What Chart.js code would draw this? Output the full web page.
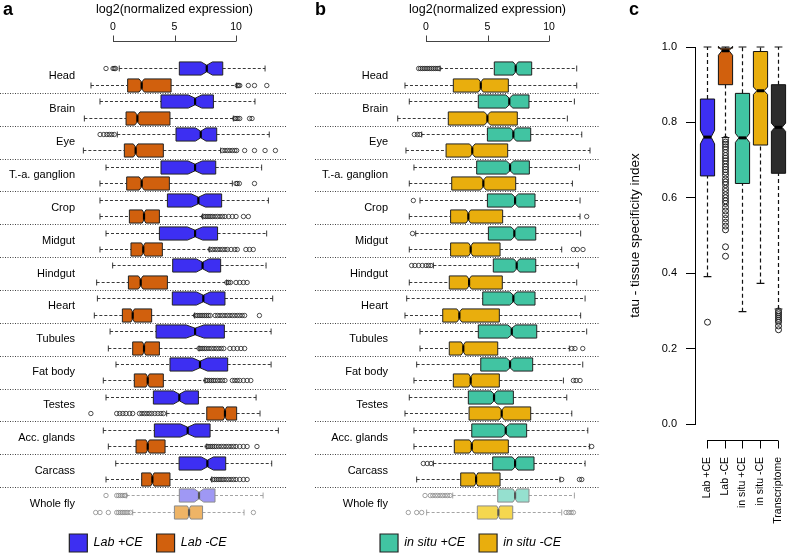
<!DOCTYPE html>
<html>
<head>
<meta charset="utf-8">
<title>Expression by tissue and tissue specificity</title>
<script src="https://cdn.jsdelivr.net/npm/chart.js@4.4.1/dist/chart.umd.min.js"></script>
<style>
  html, body { margin: 0; padding: 0; background: #fff; }
  body { position: relative; width: 787px; height: 556px; overflow: hidden; font-family: "Liberation Sans", Arial, sans-serif; }
  canvas { position: absolute; top: 0; }
  .panel { position: absolute; top: 0; font-size: 18px; font-weight: bold; line-height: 1; }
</style>
</head>
<body>
<canvas id="panelA" width="296" height="562" style="left:0"></canvas>
<canvas id="panelB" width="315" height="562" style="left:313px"></canvas>
<canvas id="panelC" width="167" height="556" style="left:620px"></canvas>
<div class="panel" style="left:3px">a</div>
<div class="panel" style="left:315px">b</div>
<div class="panel" style="left:629px">c</div>
<script>
// ---------- Data ----------
const tissues = ['Head', 'Brain', 'Eye', 'T.-a. ganglion', 'Crop', 'Midgut', 'Hindgut',
  'Heart', 'Tubules', 'Fat body', 'Testes', 'Acc. glands', 'Carcass', 'Whole fly'];
const exprTicks = [0, 5, 10];
const exprTitle = 'log2(normalized expression)';

// [lower whisker, q1, median, q3, upper whisker] per tissue
const labPlus = [
  [0.51, 5.39, 7.62, 8.92, 12.36], [-1.06, 3.90, 6.67, 8.16, 11.54], [0.35, 5.12, 7.13, 8.43, 12.70],
  [-0.57, 3.90, 6.67, 8.35, 12.08], [-1.06, 4.42, 6.94, 8.83, 12.63], [-0.57, 3.77, 6.67, 8.50, 12.49],
  [-0.03, 4.85, 7.28, 8.75, 12.44], [-1.27, 4.82, 7.34, 9.10, 12.98], [-0.24, 3.50, 6.67, 9.05, 12.85],
  [0.24, 4.63, 7.07, 9.32, 12.85], [-0.57, 3.28, 5.39, 6.94, 11.63], [-0.79, 3.36, 6.07, 7.89, 13.44],
  [0.22, 5.37, 7.67, 9.16, 12.90], [1.11, 5.39, 6.99, 8.29, 12.20]
];
const labMinus = [
  [-1.79, 1.19, 2.33, 4.72, 10.05], [-2.33, 1.06, 1.98, 4.63, 9.78], [-2.41, 0.92, 1.84, 4.09, 8.75],
  [-1.06, 1.11, 2.33, 4.58, 9.70], [-1.06, 1.33, 2.52, 3.77, 7.28], [-1.06, 1.46, 2.46, 4.01, 7.83],
  [-1.33, 1.25, 2.25, 4.42, 9.24], [-1.52, 0.76, 1.60, 3.14, 6.62], [-0.38, 1.60, 2.52, 3.77, 6.99],
  [-0.79, 1.73, 2.82, 4.09, 7.48], [4.36, 7.62, 9.10, 10.05, 11.95], [-0.38, 1.87, 2.82, 4.23, 7.62],
  [-0.57, 2.33, 3.20, 4.63, 8.02], [1.60, 4.99, 6.18, 7.28, 10.65]
];
const situPlus = [
  [1.14, 5.55, 7.29, 8.59, 12.25], [-1.36, 4.25, 6.77, 8.37, 12.06], [-0.35, 4.99, 7.10, 8.51, 12.66],
  [-0.98, 4.12, 6.83, 8.40, 12.47], [-0.49, 4.99, 7.24, 8.86, 12.52], [-0.84, 5.07, 7.18, 8.92, 12.57],
  [0.60, 5.47, 7.37, 8.92, 12.38], [-1.57, 4.61, 7.10, 8.86, 12.93], [-0.49, 4.25, 6.97, 9.00, 13.06],
  [-0.76, 4.45, 6.83, 8.67, 12.74], [-1.36, 3.44, 5.53, 7.10, 11.44], [-0.98, 3.72, 6.48, 8.18, 13.15],
  [0.60, 5.42, 7.24, 8.78, 12.93], [2.17, 5.83, 7.24, 8.37, 12.06]
];
const situMinus = [
  [-1.71, 2.22, 4.45, 6.69, 12.25], [-2.30, 1.81, 4.99, 7.42, 11.49], [-1.63, 1.63, 3.76, 6.64, 13.33],
  [-1.36, 2.09, 4.66, 7.29, 11.90], [-1.36, 2.00, 3.44, 6.23, 12.52], [-1.36, 2.00, 3.63, 6.02, 11.03],
  [-1.36, 1.89, 3.50, 6.20, 12.25], [-1.71, 1.36, 2.71, 5.96, 12.57], [-0.49, 1.89, 3.03, 5.83, 11.65],
  [-0.98, 2.22, 3.63, 5.96, 11.17], [-1.71, 3.50, 6.15, 8.51, 11.85], [-0.98, 2.30, 3.72, 6.69, 13.28],
  [-0.76, 2.82, 4.07, 6.02, 10.89], [0.05, 4.17, 5.88, 7.05, 11.03]
];

// outliers per tissue
const labPlusOut = [
  [-0.57, 0.0, 0.1, 0.2], [], [-1.05, -0.75, -0.5, -0.3, -0.1, 0.1], [], [], [], [], [], [], [], [], [], [],
  [-0.57, 0.3, 0.45, 0.6, 0.75, 0.9, 1.0]
];
const labMinusOut = [
  [10.1, 10.2, 10.3, 11.0, 11.5, 12.5],
  [9.9, 10.0, 10.15, 10.3, 11.1, 11.3],
  [8.9, 9.1, 9.3, 9.5, 9.7, 9.9, 10.05, 10.7, 11.5, 12.36, 13.2],
  [10.0, 10.1, 10.27, 11.5],
  [7.35, 7.5, 7.65, 7.8, 7.95, 8.1, 8.3, 8.5, 8.7, 8.9, 9.1, 9.4, 9.7, 10.0, 10.6, 11.0],
  [7.9, 8.1, 8.3, 8.5, 8.7, 8.9, 9.1, 9.3, 9.6, 9.9, 10.1, 10.8, 11.1, 11.4],
  [9.25, 9.4, 9.55, 10.0, 10.3, 10.6, 10.9],
  [6.7, 6.85, 7.0, 7.15, 7.3, 7.45, 7.6, 7.75, 7.9, 8.3, 8.5, 8.7, 8.9, 9.1, 9.3, 9.5, 9.7, 9.9, 10.1, 10.3, 10.5, 10.7, 11.9],
  [7.0, 7.15, 7.3, 7.45, 7.6, 7.8, 8.0, 8.2, 8.4, 8.6, 8.8, 9.0, 9.5, 9.8, 10.1, 10.4, 10.7],
  [7.55, 7.7, 7.85, 8.0, 8.15, 8.3, 8.5, 8.7, 8.9, 9.1, 9.7, 9.9, 10.1, 10.3, 10.6, 10.9, 11.2],
  [-1.8, 0.3, 0.55, 0.8, 1.05, 1.35, 1.6, 2.15, 2.35, 2.55, 2.75, 2.95, 3.15, 3.4, 3.65, 3.9, 4.1],
  [7.65, 7.8, 7.95, 8.1, 8.25, 8.4, 8.6, 8.8, 9.0, 9.2, 9.4, 9.6, 9.8, 10.0, 10.3, 10.6, 10.9, 11.7],
  [8.1, 8.25, 8.4, 8.55, 8.7, 8.85, 9.0, 9.2, 9.4, 9.6, 9.8, 10.0, 10.3, 10.6, 10.9],
  [-1.41, -1.06, -0.38, 0.3, 0.45, 0.6, 0.75, 0.9, 1.05, 1.2, 1.4, 11.41]
];
const situPlusOut = [
  [-0.6, -0.45, -0.3, -0.15, 0.0, 0.15, 0.3, 0.45, 0.6, 0.75, 0.9, 1.05],
  [], [-0.95, -0.7, -0.5], [], [-1.03], [-1.1], [-1.17, -0.9, -0.6, -0.3, 0.0, 0.2, 0.4],
  [], [], [], [], [], [-0.22, 0.1, 0.4],
  [-0.08, 0.35, 0.55, 0.75, 0.95, 1.15, 1.35, 1.55, 1.75, 1.95]
];
const situMinusOut = [
  [], [], [], [], [13.06], [11.98, 12.3, 12.76], [], [], [11.85, 12.11, 12.74],
  [11.98, 12.2, 12.52], [], [13.47], [11.03, 12.47, 12.66],
  [-1.44, -0.76, -0.35, 11.38, 11.6, 11.8, 11.98]
];

// panel c: tau
const tauCats = ['Lab +CE', 'Lab -CE', 'in situ +CE', 'in situ -CE', 'Transcriptome'];
const tauTicks = [0, 0.2, 0.4, 0.6, 0.8, 1.0];
const tauStats = [
  [0.391, 0.658, 0.761, 0.862, 1.0],
  [0.760, 0.900, 0.990, 0.997, 1.0],
  [0.298, 0.638, 0.759, 0.877, 1.0],
  [0.373, 0.740, 0.884, 0.988, 1.0],
  [0.305, 0.665, 0.787, 0.900, 1.0]
];
const tauNotch = [0.018, 0.012, 0.012, 0.010, 0.011];
const tauOut = [
  [0.27],
  [0.755, 0.748, 0.742, 0.735, 0.728, 0.72, 0.712, 0.705, 0.698, 0.69, 0.682, 0.675, 0.668, 0.66, 0.65,
   0.642, 0.635, 0.625, 0.617, 0.608, 0.6, 0.592, 0.585, 0.575, 0.565, 0.555, 0.545, 0.535, 0.525, 0.515, 0.47, 0.445],
  [],
  [],
  [0.30, 0.295, 0.29, 0.285, 0.28, 0.275, 0.27, 0.26, 0.25]
];

// ---------- Styles ----------
const FONT = '"Liberation Sans", Arial, sans-serif';
Chart.defaults.font.family = FONT;
Chart.defaults.color = '#000';

const colors = {
  labPlus: '#3d2ff2', labMinus: '#d1600d', situPlus: '#41c4a2', situMinus: '#e9ae0d', transcriptome: '#2c2c2c'
};
const faded = {
  labPlus: '#9f98f4', labMinus: '#eeb466', situPlus: '#95e0cf', situMinus: '#f5d74f'
};

// ---------- Horizontal notched boxes (panels a, b) ----------
function drawHBox(ctx, xs, yc, h, cap, s, notch, fill, light, outs) {
  const [lo, q1, md, q3, hi] = s;
  const P = v => xs.getPixelForValue(v);
  const nw = notch * (q3 - q1);
  const ink = light ? '#9a9a9a' : '#222';

  ctx.strokeStyle = ink;
  ctx.lineWidth = 0.9;
  ctx.setLineDash([3, 2]);
  ctx.beginPath();
  ctx.moveTo(P(lo), yc); ctx.lineTo(P(q1), yc);
  ctx.moveTo(P(q3), yc); ctx.lineTo(P(hi), yc);
  ctx.stroke();
  ctx.setLineDash([]);
  ctx.beginPath();
  ctx.moveTo(P(lo), yc - cap); ctx.lineTo(P(lo), yc + cap);
  ctx.moveTo(P(hi), yc - cap); ctx.lineTo(P(hi), yc + cap);
  ctx.stroke();

  ctx.beginPath();
  ctx.moveTo(P(q1), yc - h);
  ctx.lineTo(P(md - nw), yc - h);
  ctx.lineTo(P(md), yc - h / 2);
  ctx.lineTo(P(md + nw), yc - h);
  ctx.lineTo(P(q3), yc - h);
  ctx.lineTo(P(q3), yc + h);
  ctx.lineTo(P(md + nw), yc + h);
  ctx.lineTo(P(md), yc + h / 2);
  ctx.lineTo(P(md - nw), yc + h);
  ctx.lineTo(P(q1), yc + h);
  ctx.closePath();
  ctx.fillStyle = fill;
  ctx.fill();
  ctx.strokeStyle = light ? '#8a8a8a' : '#222';
  ctx.lineWidth = 1;
  ctx.stroke();

  ctx.strokeStyle = light ? '#555' : '#000';
  ctx.lineWidth = 2.2;
  ctx.beginPath();
  ctx.moveTo(P(md), yc - h / 2); ctx.lineTo(P(md), yc + h / 2);
  ctx.stroke();

  ctx.strokeStyle = light ? '#8a8a8a' : '#222';
  ctx.lineWidth = 0.8;
  for (const v of outs) {
    ctx.beginPath();
    ctx.arc(P(v), yc, 2.2, 0, Math.PI * 2);
    ctx.stroke();
  }
}

const rowBoxes = {
  id: 'rowBoxes',
  afterDatasetsDraw(chart, args, opts) {
    const ctx = chart.ctx;
    const xs = chart.scales.x, ys = chart.scales.y;
    const area = chart.chartArea;
    const band = ys.getPixelForValue(1) - ys.getPixelForValue(0);
    const h = band * 0.2, cap = band * 0.09;
    ctx.save();

    // dotted row separators
    ctx.strokeStyle = '#444';
    ctx.lineWidth = 1;
    ctx.setLineDash([1, 1.5]);
    for (let i = 1; i < tissues.length; i++) {
      const y = Math.round(ys.getPixelForValue(i - 0.5)) + 0.5;
      ctx.beginPath();
      ctx.moveTo(opts.sepLeft, y);
      ctx.lineTo(area.right + 1, y);
      ctx.stroke();
    }
    ctx.setLineDash([]);

    // axis line spanning the ticks only, R style
    const ay = 41.5;
    ctx.strokeStyle = '#444';
    ctx.beginPath();
    ctx.moveTo(xs.getPixelForValue(exprTicks[0]), ay);
    ctx.lineTo(xs.getPixelForValue(exprTicks[exprTicks.length - 1]), ay);
    for (const v of exprTicks) {
      const px = Math.round(xs.getPixelForValue(v)) + 0.5;
      ctx.moveTo(px, ay);
      ctx.lineTo(px, ay - 6);
    }
    ctx.stroke();
    ctx.fillStyle = '#000';
    ctx.font = '12.5px ' + FONT;
    ctx.textAlign = 'center';
    ctx.textBaseline = 'middle';
    ctx.fillText(exprTitle, xs.getPixelForValue(5), 10);

    chart.data.datasets.forEach((ds, k) => {
      const off = k === 0 ? -0.25 : 0.25;
      ds.stats.forEach((s, i) => {
        const light = tissues[i] === 'Whole fly';
        const yc = Math.round(ys.getPixelForValue(i + off)) + 0.5;
        drawHBox(ctx, xs, yc, h, cap, s, ds.notchRatio, light ? ds.fadedColor : ds.backgroundColor, light, ds.outliers[i]);
      });
    });
    ctx.restore();
  }
};

function exprChart(id, series, padRight, sepLeft) {
  return new Chart(document.getElementById(id), {
    type: 'scatter',
    data: {
      datasets: series.map(s => ({
        label: s.label, data: [], stats: s.stats, outliers: s.outliers, notchRatio: s.notchRatio,
        backgroundColor: s.color, fadedColor: s.faded, borderColor: '#222', borderWidth: 1
      }))
    },
    options: {
      responsive: false,
      animation: false,
      devicePixelRatio: 1,
      layout: { padding: 0 },
      scales: {
        x: {
          type: 'linear', position: 'top', min: -2.44, max: 13.98,
          grid: { display: false, drawTicks: false }, border: { display: false },
          afterBuildTicks: sc => { sc.ticks = exprTicks.map(v => ({ value: v })); },
          ticks: { padding: 27, font: { size: 10.5 }, callback: v => String(v) },
          afterFit: sc => { sc.height = 60; }
        },
        y: {
          type: 'category', labels: tissues, offset: true,
          grid: { display: false, drawTicks: false }, border: { display: false },
          ticks: { padding: 8, autoSkip: false, font: { size: 11 } },
          afterFit: sc => { sc.width = 83; }
        },
        yr: {
          type: 'linear', position: 'right', display: true,
          grid: { display: false, drawTicks: false }, border: { display: false },
          ticks: { display: false },
          afterFit: sc => { sc.width = padRight; }
        }
      },
      plugins: {
        tooltip: { enabled: false },
        rowBoxes: { sepLeft },
        legend: {
          position: 'bottom',
          labels: {
            boxWidth: 18, boxHeight: 18, padding: 14,
            font: { size: 12.5, style: 'italic' },
            generateLabels: ch => ch.data.datasets.map((ds, i) => ({
              text: ds.label, fillStyle: ds.backgroundColor, strokeStyle: '#222', lineWidth: 1.2,
              hidden: false, datasetIndex: i, fontColor: '#000'
            }))
          }
        }
      }
    },
    plugins: [rowBoxes]
  });
}

exprChart('panelA', [
  { label: 'Lab +CE', stats: labPlus, outliers: labPlusOut, notchRatio: 0.13, color: colors.labPlus, faded: faded.labPlus },
  { label: 'Lab -CE', stats: labMinus, outliers: labMinusOut, notchRatio: 0.06, color: colors.labMinus, faded: faded.labMinus }
], 11, 0);

exprChart('panelB', [
  { label: 'in situ +CE', stats: situPlus, outliers: situPlusOut, notchRatio: 0.07, color: colors.situPlus, faded: faded.situPlus },
  { label: 'in situ -CE', stats: situMinus, outliers: situMinusOut, notchRatio: 0.045, color: colors.situMinus, faded: faded.situMinus }
], 30, 2);

// ---------- Panel c: vertical notched boxes ----------
const tauColors = [colors.labPlus, colors.labMinus, colors.situPlus, colors.situMinus, colors.transcriptome];

const tauBoxes = {
  id: 'tauBoxes',
  afterDatasetsDraw(chart) {
    const ctx = chart.ctx;
    const xs = chart.scales.x, ys = chart.scales.y;
    const unit = xs.getPixelForValue(1) - xs.getPixelForValue(0);
    const w = unit * 0.4, cap = unit * 0.22;
    const P = v => ys.getPixelForValue(v);
    ctx.save();
    tauStats.forEach((s, i) => {
      const [lo, q1, md, q3, hi] = s;
      const nw = tauNotch[i];
      const xc = Math.round(xs.getPixelForValue(i)) + 0.5;

      ctx.strokeStyle = '#111';
      ctx.lineWidth = 1.2;
      ctx.setLineDash([4, 3]);
      ctx.beginPath();
      ctx.moveTo(xc, P(lo)); ctx.lineTo(xc, P(q1));
      ctx.moveTo(xc, P(q3)); ctx.lineTo(xc, P(hi));
      ctx.stroke();
      ctx.setLineDash([]);
      ctx.beginPath();
      ctx.moveTo(xc - cap, P(lo)); ctx.lineTo(xc + cap, P(lo));
      ctx.moveTo(xc - cap, P(hi)); ctx.lineTo(xc + cap, P(hi));
      ctx.stroke();

      ctx.beginPath();
      ctx.moveTo(xc - w, P(q1));
      ctx.lineTo(xc - w, P(md - nw));
      ctx.lineTo(xc - w / 2, P(md));
      ctx.lineTo(xc - w, P(md + nw));
      ctx.lineTo(xc - w, P(q3));
      ctx.lineTo(xc + w, P(q3));
      ctx.lineTo(xc + w, P(md + nw));
      ctx.lineTo(xc + w / 2, P(md));
      ctx.lineTo(xc + w, P(md - nw));
      ctx.lineTo(xc + w, P(q1));
      ctx.closePath();
      ctx.fillStyle = tauColors[i];
      ctx.fill();
      ctx.strokeStyle = '#111';
      ctx.lineWidth = 1;
      ctx.stroke();

      ctx.strokeStyle = '#000';
      ctx.lineWidth = 3;
      ctx.beginPath();
      ctx.moveTo(xc - w / 2, P(md)); ctx.lineTo(xc + w / 2, P(md));
      ctx.stroke();

      ctx.strokeStyle = '#222';
      ctx.lineWidth = 1;
      for (const v of tauOut[i]) {
        ctx.beginPath();
        ctx.arc(xc, P(v), 3, 0, Math.PI * 2);
        ctx.stroke();
      }
    });

    // category axis, R style
    const ay = 440.5;
    ctx.strokeStyle = '#000';
    ctx.lineWidth = 1;
    ctx.beginPath();
    ctx.moveTo(xs.getPixelForValue(0), ay);
    ctx.lineTo(xs.getPixelForValue(tauCats.length - 1), ay);
    tauCats.forEach((c, i) => {
      const px = Math.round(xs.getPixelForValue(i)) + 0.5;
      ctx.moveTo(px, ay);
      ctx.lineTo(px, ay + 8);
    });
    ctx.stroke();
    ctx.restore();
  }
};

new Chart(document.getElementById('panelC'), {
  type: 'scatter',
  data: { datasets: [] },
  options: {
    responsive: false,
    animation: false,
    devicePixelRatio: 1,
    layout: { padding: { top: 47, left: 0, right: 0, bottom: 0 } },
    scales: {
      x: {
        type: 'linear', position: 'bottom', min: -0.676, max: 4.507,
        grid: { display: false, drawTicks: false }, border: { display: false },
        afterBuildTicks: sc => { sc.ticks = tauCats.map((c, i) => ({ value: i })); },
        ticks: { padding: 33, minRotation: 90, maxRotation: 90, autoSkip: false, font: { size: 10.5 },
          callback: v => tauCats[v] },
        afterFit: sc => { sc.height = 132; sc.paddingLeft = 0; sc.paddingRight = 0; }
      },
      y: {
        type: 'linear', min: 0, max: 1,
        grid: { display: true, drawOnChartArea: false, drawTicks: true, tickLength: 9, color: '#000' },
        border: { display: true, color: '#000', width: 1 },
        afterBuildTicks: sc => { sc.ticks = tauTicks.map(v => ({ value: v })); },
        ticks: { padding: 9, font: { size: 11 }, callback: v => v.toFixed(1) },
        title: { display: true, text: 'tau - tissue specificity index', font: { size: 13.5 }, padding: { top: 7, bottom: 0 } },
        afterFit: sc => { sc.width = 75; sc.paddingTop = 0; sc.paddingBottom = 0; }
      }
    },
    plugins: { legend: { display: false }, tooltip: { enabled: false } }
  },
  plugins: [tauBoxes]
});
</script>
</body>
</html>
